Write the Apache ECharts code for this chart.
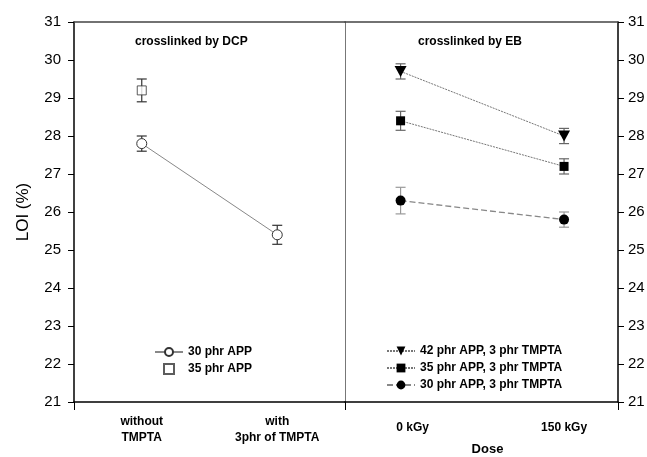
<!DOCTYPE html>
<html>
<head>
<meta charset="utf-8">
<script src="https://cdn.jsdelivr.net/npm/echarts@6/dist/echarts.min.js"></script>
<style>
  html, body { margin: 0; padding: 0; background: #fff; }
  #chart { width: 647px; height: 457px; }
</style>
</head>
<body>
<div id="chart"></div>
<script>
// Limiting oxygen index for samples crosslinked by DCP and by electron beam (EB)
const dcpCategories = ['without\nTMPTA', 'with\n3phr of TMPTA'];
const ebCategories = ['0 kGy', '150 kGy'];

const dcp30 = [27.8, 25.4];
const dcp30Err = [0.2, 0.25];
const dcp35 = [29.2];
const dcp35Err = [0.3];

const eb42 = [29.7, 28.0];
const eb42Err = [0.2, 0.2];
const eb35 = [28.4, 27.2];
const eb35Err = [0.25, 0.2];
const eb30 = [26.3, 25.8];
const eb30Err = [0.35, 0.2];

const yTicks = [21, 22, 23, 24, 25, 26, 27, 28, 29, 30, 31];

const FONT = 'Liberation Sans, Arial, sans-serif';
const toPoints = (vals) => vals.map((v, i) => [i, v]);
const toErr = (vals, errs) => vals.map((v, i) => [i, v, errs[i]]);

function errorBarSeries(xAxisIndex, yAxisIndex, data, color) {
  return {
    type: 'custom',
    xAxisIndex, yAxisIndex,
    z: 1,
    silent: true,
    data,
    renderItem(params, api) {
      const x = api.value(0), y = api.value(1), e = api.value(2);
      const hi = api.coord([x, y + e]);
      const lo = api.coord([x, y - e]);
      const w = 5;
      const st = { stroke: color, lineWidth: 1.2 };
      return {
        type: 'group',
        children: [
          { type: 'line', shape: { x1: hi[0], y1: hi[1], x2: lo[0], y2: lo[1] }, style: st },
          { type: 'line', shape: { x1: hi[0] - w, y1: hi[1], x2: hi[0] + w, y2: hi[1] }, style: st },
          { type: 'line', shape: { x1: lo[0] - w, y1: lo[1], x2: lo[0] + w, y2: lo[1] }, style: st }
        ]
      };
    }
  };
}

const yBase = {
  type: 'value', min: yTicks[0], max: yTicks[yTicks.length - 1], interval: 1,
  splitLine: { show: false },
  axisLine: { show: true, onZero: false, lineStyle: { color: '#000', width: 1.5 } },
  axisTick: { show: true, inside: false, length: 6, lineStyle: { color: '#000' } },
  axisLabel: { color: '#000', fontSize: 15, fontFamily: FONT }
};

const labelStyle = { color: '#000', fontSize: 12, fontWeight: 'bold', fontFamily: FONT };
const triDown = 'path://M0,0 L12,0 L6,11 Z';
const square = 'path://M0,0 L10,0 L10,10 L0,10 Z';

// Both panels use numeric x axes: category i sits at x = i
function panelXAxis(gridIndex, min, max, names, labelExtra, extra) {
  return Object.assign({
    gridIndex, type: 'value', min, max, position: 'bottom',
    splitLine: { show: false },
    axisLine: { onZero: false, lineStyle: { color: '#000', width: 1.5 } },
    axisTick: { show: true, length: 8, customValues: [min, max], lineStyle: { color: '#000' } },
    axisLabel: Object.assign({}, labelStyle, {
      lineHeight: 16, margin: 12, customValues: names.map((n, i) => i),
      formatter: (v) => names[Math.round(Number(v))]
    }, labelExtra || {})
  }, extra || {});
}

const chart = echarts.init(document.getElementById('chart'));
chart.setOption({
  animation: false,
  backgroundColor: '#fff',
  title: [
    { text: 'crosslinked by DCP', left: 130, top: 31, padding: 5, textStyle: labelStyle },
    { text: 'crosslinked by EB', left: 413, top: 31, padding: 5, textStyle: labelStyle }
  ],
  legend: [
    {
      data: ['30 phr APP', '35 phr APP'],
      orient: 'vertical', left: 149, top: 341, itemGap: 5,
      itemWidth: 28, itemHeight: 10,
      textStyle: labelStyle
    },
    {
      data: ['42 phr APP, 3 phr TMPTA', '35 phr APP, 3 phr TMPTA', '30 phr APP, 3 phr TMPTA'],
      orient: 'vertical', left: 381, top: 340, itemGap: 5,
      itemWidth: 28, itemHeight: 11,
      textStyle: labelStyle
    }
  ],
  grid: [
    { left: 74, right: 302, top: 22, bottom: 55, containLabel: false, outerBoundsMode: 'none' },
    { left: 345, right: 29, top: 22, bottom: 55, containLabel: false, outerBoundsMode: 'none' }
  ],
  xAxis: [
    panelXAxis(0, -0.5, 1.5, dcpCategories),
    panelXAxis(1, -0.34, 1.33, ebCategories, {
      margin: 18,
      formatter: (v) => {
        const i = Math.round(Number(v));
        return i === 0 ? '{first|' + ebCategories[i] + '}' : ebCategories[i];
      },
      rich: { first: Object.assign({}, labelStyle, { padding: [0, 0, 0, 24] }) }
    }, {
      name: 'Dose', nameLocation: 'middle', nameGap: 41,
      nameTextStyle: Object.assign({}, labelStyle, { fontSize: 13, padding: [0, 0, 0, 12] })
    }),
    {
      gridIndex: 0, type: 'value', position: 'top', min: 0, max: 1,
      axisLine: { show: true, onZero: false, lineStyle: { color: '#444', width: 1.5 } },
      axisTick: { show: false }, axisLabel: { show: false }, splitLine: { show: false }
    },
    {
      gridIndex: 1, type: 'value', position: 'top', min: 0, max: 1,
      axisLine: { show: true, onZero: false, lineStyle: { color: '#444', width: 1.5 } },
      axisTick: { show: false }, axisLabel: { show: false }, splitLine: { show: false }
    }
  ],
  yAxis: [
    Object.assign({}, yBase, {
      gridIndex: 0, position: 'left',
      axisLabel: Object.assign({}, yBase.axisLabel, { margin: 13 }),
      name: 'LOI (%)', nameLocation: 'middle', nameGap: 42, nameRotate: 90,
      nameTextStyle: { color: '#000', fontSize: 17, fontFamily: FONT }
    }),
    Object.assign({}, yBase, {
      gridIndex: 1, position: 'right',
      axisLabel: Object.assign({}, yBase.axisLabel, { margin: 10 })
    }),
    {
      gridIndex: 0, type: 'value', position: 'right', min: 21, max: 31,
      axisLine: { show: true, onZero: false, lineStyle: { color: '#777', width: 1 } },
      axisTick: { show: false }, axisLabel: { show: false }, splitLine: { show: false }
    }
  ],
  series: [
    errorBarSeries(0, 0, toErr(dcp30, dcp30Err), '#333'),
    errorBarSeries(0, 0, toErr(dcp35, dcp35Err), '#333'),
    errorBarSeries(1, 1, toErr(eb42, eb42Err), '#666'),
    errorBarSeries(1, 1, toErr(eb35, eb35Err), '#666'),
    errorBarSeries(1, 1, toErr(eb30, eb30Err), '#999'),
    {
      name: '30 phr APP', type: 'line', xAxisIndex: 0, yAxisIndex: 0, z: 3,
      data: toPoints(dcp30),
      symbol: 'circle', symbolSize: 10,
      lineStyle: { color: '#888', width: 1 },
      itemStyle: { color: '#fff', borderColor: '#333', borderWidth: 1 }
    },
    {
      name: '35 phr APP', type: 'scatter', xAxisIndex: 0, yAxisIndex: 0, z: 3,
      data: toPoints(dcp35),
      symbol: square, symbolSize: 9, symbolKeepAspect: true,
      itemStyle: { color: '#fff', borderColor: '#333', borderWidth: 1 }
    },
    {
      name: '42 phr APP, 3 phr TMPTA', type: 'line', xAxisIndex: 1, yAxisIndex: 1, z: 3,
      data: toPoints(eb42),
      symbol: triDown, symbolSize: [12, 11],
      lineStyle: { color: '#777', width: 1, type: [2, 1] },
      itemStyle: { color: '#000' }
    },
    {
      name: '35 phr APP, 3 phr TMPTA', type: 'line', xAxisIndex: 1, yAxisIndex: 1, z: 3,
      data: toPoints(eb35),
      symbol: 'rect', symbolSize: 9,
      lineStyle: { color: '#777', width: 1, type: [2, 1] },
      itemStyle: { color: '#000' }
    },
    {
      name: '30 phr APP, 3 phr TMPTA', type: 'line', xAxisIndex: 1, yAxisIndex: 1, z: 3,
      data: toPoints(eb30),
      symbol: 'circle', symbolSize: 10,
      lineStyle: { color: '#888', width: 1.3, type: [6, 3] },
      itemStyle: { color: '#000' }
    }
  ]
});
</script>
</body>
</html>
